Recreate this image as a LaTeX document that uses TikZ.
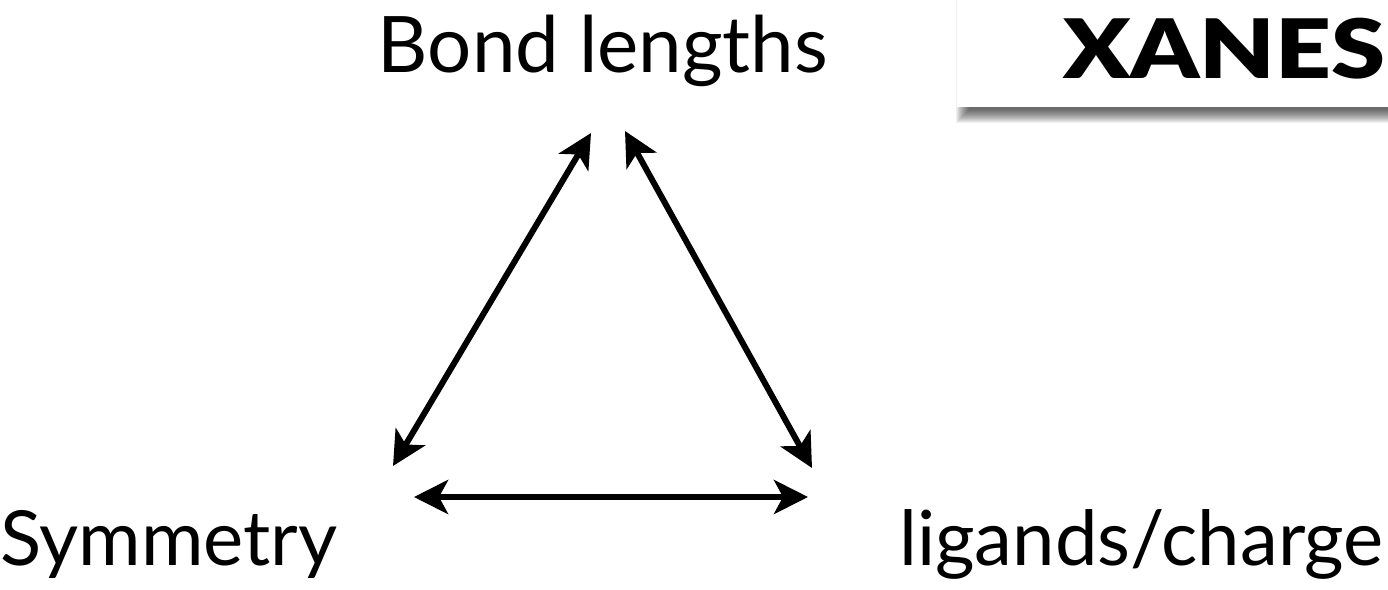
\documentclass[tikz,border=0pt]{standalone}
\usepackage{fontspec}
\setmainfont{Lato}
\newfontfamily\heavyfont{Lato Black}
\usetikzlibrary{positioning,arrows.meta}
\definecolor{shdw}{RGB}{0,0,0}
\tikzset{
  lbl/.style={font=\fontsize{76}{80}\selectfont, inner sep=0pt},
  ttl/.style={font=\fontsize{82}{86}\selectfont\heavyfont, inner sep=0pt},
  link/.style={{Stealth[length=34pt,width=34pt,inset=9pt]}-{Stealth[length=34pt,width=34pt,inset=9pt]}, line width=6pt},
  xanesdiag/.style={x=1pt, y=-1pt}
}
\begin{document}
\begin{tikzpicture}[xanesdiag]
        \useasboundingbox (0,0) rectangle (1388,589);
        % title box with shadow
        \foreach \r in {1,...,14}
          \fill[shdw, opacity=0.06] (970-\r,0) rectangle (1400,109+\r);
        \fill[white] (957,-2) rectangle (1400,107);
        \node[ttl, anchor=base west] (xanes) at (1063,78) {\scalebox{1.19}[1]{XANES}};
        % corners
        \node[lbl, anchor=base] (bond) at (603,72) {\fontsize{78}{82}\selectfont Bond lengths};
        \node[lbl, anchor=base west] (sym) at (0,565) {Symmetry};
        \node[lbl, anchor=base east] (lig) at (1384,565) {ligands/charge};
        \coordinate (tl) at (591,133);
        \coordinate (tr) at (625,131);
        \coordinate (lu) at (393,466);
        \coordinate (ru) at (812,468);
        \coordinate (ld) at (414,497);
        \coordinate (rd) at (808,497);
        \draw[link] (tl) -- (lu);
        \draw[link] (tr) -- (ru);
        \draw[link] (ld) -- (rd);
      \end{tikzpicture}
\end{document}
